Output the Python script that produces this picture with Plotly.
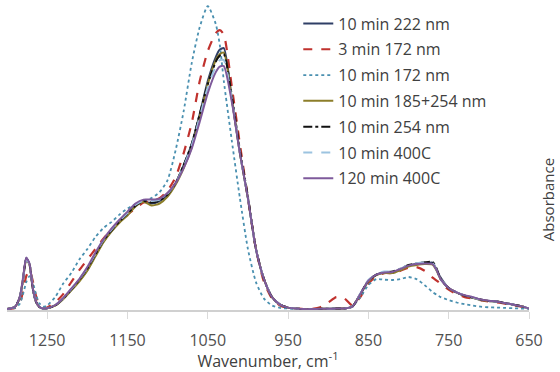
import plotly.graph_objects as go

wavenumber = [1300, 1290, 1284, 1280, 1276, 1272, 1268, 1264, 1260, 1255, 1250,
              1240, 1230, 1220, 1210, 1200, 1190, 1180, 1170, 1160, 1150, 1140, 1130,
              1120, 1110, 1100, 1090, 1080, 1070, 1060, 1050, 1040, 1035, 1030,
              1020, 1010, 1000, 990, 980, 970, 960, 950,
              940, 930, 920, 910, 900, 890, 880, 870,
              860, 850, 840, 830, 820, 810, 800, 790, 780, 770,
              765, 760, 750, 740, 730, 720, 710, 700, 690, 680, 670, 660, 650]

uv222_10min = [0.0, 0.008, 0.04, 0.1, 0.17, 0.15, 0.07, 0.025, 0.008, 0.002, 0.003,
               0.012, 0.035, 0.065, 0.095, 0.13, 0.18, 0.225, 0.26, 0.29, 0.315, 0.345, 0.36,
               0.352, 0.36, 0.38, 0.42, 0.48, 0.55, 0.65, 0.76, 0.84, 0.865, 0.87,
               0.7, 0.52, 0.37, 0.2, 0.1, 0.04, 0.015, 0.005,
               0.002, 0.0, 0.0, 0.001, 0.001, 0.002, 0.002, 0.008,
               0.05, 0.095, 0.115, 0.123, 0.123, 0.133, 0.145, 0.15, 0.152, 0.155,
               0.13, 0.105, 0.07, 0.055, 0.045, 0.038, 0.03, 0.027, 0.025, 0.02, 0.015, 0.01, 0.002]

uv172_3min = [0.0, 0.004, 0.02, 0.06, 0.11, 0.13, 0.095, 0.045, 0.015, 0.004, 0.005,
              0.022, 0.05, 0.09, 0.13, 0.165, 0.2, 0.235, 0.265, 0.29, 0.315, 0.335, 0.355,
              0.36, 0.37, 0.395, 0.44, 0.52, 0.62, 0.76, 0.86, 0.92, 0.93, 0.915,
              0.74, 0.55, 0.37, 0.2, 0.09, 0.035, 0.012, 0.004,
              0.002, 0.0, 0.001, 0.006, 0.022, 0.04, 0.036, 0.012,
              0.04, 0.085, 0.11, 0.12, 0.12, 0.128, 0.138, 0.14, 0.128, 0.105,
              0.095, 0.085, 0.065, 0.05, 0.04, 0.035, 0.03, 0.025, 0.022, 0.018, 0.013, 0.008, 0.002]

uv172_10min = [0.0, 0.004, 0.018, 0.05, 0.09, 0.11, 0.09, 0.05, 0.02, 0.008, 0.012,
               0.04, 0.085, 0.12, 0.165, 0.2, 0.24, 0.27, 0.29, 0.315, 0.335, 0.35, 0.36,
               0.37, 0.39, 0.43, 0.53, 0.66, 0.82, 0.94, 1.01, 0.95, 0.88, 0.76,
               0.56, 0.37, 0.2, 0.09, 0.035, 0.012, 0.004, 0.002,
               0.0, 0.0, 0.0, 0.001, 0.001, 0.002, 0.002, 0.01,
               0.04, 0.08, 0.1, 0.098, 0.097, 0.1, 0.107, 0.1, 0.08, 0.057,
               0.048, 0.04, 0.03, 0.022, 0.016, 0.012, 0.008, 0.006, 0.005, 0.004, 0.003, 0.002, 0.001]

uv185_254_10min = [0.0, 0.008, 0.04, 0.1, 0.165, 0.148, 0.07, 0.025, 0.008, 0.002, 0.003,
                   0.012, 0.033, 0.062, 0.092, 0.128, 0.175, 0.222, 0.258, 0.288, 0.312, 0.342, 0.358,
                   0.345, 0.352, 0.375, 0.415, 0.47, 0.54, 0.64, 0.75, 0.83, 0.85, 0.855,
                   0.7, 0.52, 0.37, 0.2, 0.1, 0.04, 0.015, 0.005,
                   0.002, 0.0, 0.0, 0.001, 0.001, 0.002, 0.002, 0.008,
                   0.05, 0.093, 0.113, 0.12, 0.12, 0.13, 0.142, 0.147, 0.15, 0.148,
                   0.128, 0.1, 0.07, 0.055, 0.045, 0.038, 0.03, 0.027, 0.025, 0.02, 0.015, 0.01, 0.002]

uv254_10min = [0.0, 0.008, 0.04, 0.1, 0.168, 0.15, 0.07, 0.025, 0.008, 0.002, 0.003,
               0.012, 0.035, 0.065, 0.098, 0.135, 0.182, 0.228, 0.262, 0.292, 0.318, 0.345, 0.36,
               0.355, 0.362, 0.382, 0.42, 0.48, 0.55, 0.65, 0.75, 0.825, 0.845, 0.85,
               0.71, 0.53, 0.375, 0.2, 0.1, 0.04, 0.015, 0.005,
               0.002, 0.0, 0.0, 0.001, 0.001, 0.002, 0.002, 0.008,
               0.05, 0.095, 0.115, 0.123, 0.125, 0.135, 0.147, 0.152, 0.156, 0.157,
               0.135, 0.1, 0.07, 0.055, 0.045, 0.038, 0.032, 0.027, 0.025, 0.02, 0.015, 0.01, 0.002]

thermal400_10min = [0.0, 0.008, 0.04, 0.1, 0.165, 0.15, 0.072, 0.026, 0.008, 0.002, 0.003,
                    0.013, 0.036, 0.067, 0.1, 0.138, 0.185, 0.23, 0.265, 0.295, 0.32, 0.348, 0.362,
                    0.36, 0.365, 0.385, 0.42, 0.475, 0.545, 0.64, 0.74, 0.81, 0.83, 0.83,
                    0.7, 0.52, 0.37, 0.2, 0.1, 0.04, 0.015, 0.005,
                    0.002, 0.0, 0.0, 0.001, 0.001, 0.002, 0.002, 0.008,
                    0.052, 0.097, 0.117, 0.125, 0.125, 0.135, 0.147, 0.153, 0.155, 0.153,
                    0.13, 0.1, 0.07, 0.056, 0.046, 0.039, 0.031, 0.028, 0.025, 0.02, 0.015, 0.01, 0.002]

thermal400_120min = [0.0, 0.008, 0.042, 0.105, 0.172, 0.152, 0.072, 0.026, 0.008, 0.002, 0.003,
                     0.013, 0.037, 0.068, 0.1, 0.14, 0.188, 0.232, 0.268, 0.298, 0.325, 0.352, 0.365,
                     0.365, 0.368, 0.388, 0.42, 0.47, 0.535, 0.625, 0.72, 0.79, 0.808, 0.81,
                     0.69, 0.52, 0.37, 0.2, 0.1, 0.04, 0.015, 0.005,
                     0.002, 0.0, 0.0, 0.001, 0.001, 0.002, 0.002, 0.008,
                     0.05, 0.095, 0.115, 0.122, 0.124, 0.134, 0.145, 0.15, 0.152, 0.15,
                     0.13, 0.1, 0.07, 0.056, 0.046, 0.04, 0.032, 0.028, 0.025, 0.02, 0.015, 0.01, 0.002]

series_names = ["10 min 222 nm", "3 min 172 nm", "10 min 172 nm", "10 min 185+254 nm",
                "10 min 254 nm", "10 min 400C", "120 min 400C"]
x_ticks = [1250, 1150, 1050, 950, 850, 750, 650]

series_values = [uv222_10min, uv172_3min, uv172_10min, uv185_254_10min,
                 uv254_10min, thermal400_10min, thermal400_120min]
styles = [
    dict(color="#2F3F66", dash="solid", width=2),
    dict(color="#C0322E", dash="dash", width=2.2),
    dict(color="#4A90B0", dash="dot", width=1.8),
    dict(color="#8C7E2A", dash="solid", width=2),
    dict(color="#111111", dash="dashdot", width=2),
    dict(color="#9CC3E0", dash="dash", width=2),
    dict(color="#7E5A9B", dash="solid", width=2),
]

fig = go.Figure()
for i, (name, vals, st) in enumerate(zip(series_names, series_values, styles)):
    fig.add_trace(go.Scatter(
        x=wavenumber, y=vals, name=name, mode="lines",
        line=dict(color=st["color"], dash=st["dash"], width=st["width"],
                  shape="spline", smoothing=0.6),
        legendgroup=f"g{i}",
    ))

fig.update_layout(
    width=560, height=372,
    margin=dict(l=7, r=31, t=5, b=62, autoexpand=False),
    paper_bgcolor="white", plot_bgcolor="white",
    font=dict(family="Open Sans, sans-serif", size=16, color="#404040"),
    showlegend=True,
    legend=dict(
        x=0.558, y=0.995, xanchor="left", yanchor="top",
        bgcolor="rgba(255,255,255,0)", borderwidth=0,
        font=dict(size=16, color="#404040"),
        tracegroupgap=2,
    ),
    xaxis=dict(
        range=[1300, 650],
        tickmode="array", tickvals=x_ticks, ticktext=[str(v) for v in x_ticks],
        showgrid=False, zeroline=False,
        showline=True, linecolor="#D0D0D0", linewidth=1.5,
        ticks="outside", ticklen=7, tickcolor="#DADADA",
        ticklabelstandoff=8,
        tickfont=dict(size=16, color="#505050"),
        title=dict(text="Wavenumber, cm<sup>-1</sup>", font=dict(size=16, color="#404040"),
                   standoff=3),
    ),
    yaxis=dict(
        range=[-0.003, 1.0137],
        showgrid=False, zeroline=False, showline=False,
        showticklabels=False, ticks="",
    ),
    annotations=[dict(
        text="Absorbance", textangle=-90,
        xref="paper", yref="paper", x=1.0, y=0.36,
        xshift=19, xanchor="center", yanchor="middle",
        showarrow=False, font=dict(size=15, color="#404040"),
    )],
)

fig.write_html("out.html", config={"displayModeBar": False},
               post_script="document.body.style.margin='0';document.body.style.overflow='hidden';")
